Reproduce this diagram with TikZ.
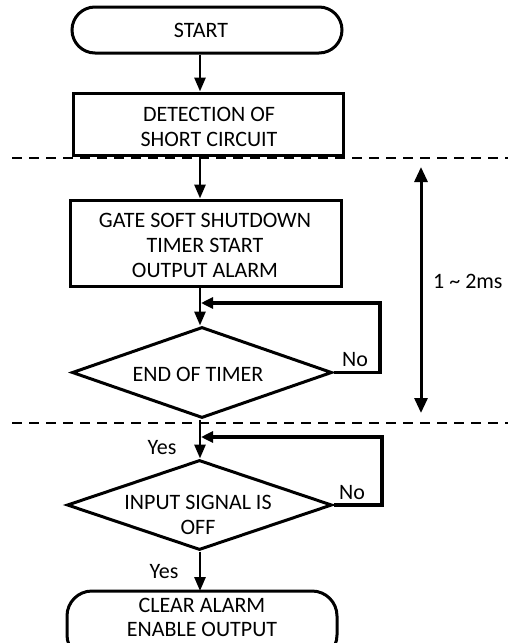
\documentclass[tikz,border=0pt]{standalone}
\usepackage{fontspec}
\setmainfont{Carlito}
\usetikzlibrary{arrows.meta,shapes.geometric,calc}
\begin{document}
\begin{tikzpicture}[x=1pt,y=-1pt,
  every node/.style={font=\fontsize{22}{25}\selectfont},
  box/.style={draw,line width=3pt,inner sep=0pt,align=center},
  term/.style={box,rounded corners=23pt},
  dec/.style={draw,line width=3pt,diamond,inner sep=0pt},
  txt/.style={inner sep=0pt,align=center},
  arr/.style={line width=2.8pt,-{Triangle[length=14pt,width=11pt]}},
  back/.style={line width=3.4pt,-{Triangle[length=12pt,width=11pt]},shorten >=1pt},
  sep/.style={line width=2.2pt,dash pattern=on 10pt off 7pt},
  dbl/.style={line width=3pt,{Triangle[length=15pt,width=13pt]}-{Triangle[length=15pt,width=13pt]}}]
\path[use as bounding box,clip] (0,0) rectangle (508,643);
\coordinate (col) at (200,0);
% nodes
\node[term,minimum width=270pt,minimum height=46pt] (start) at (207,30) {};
\node[txt] (startt) at (201,30) {START};
\node[box,minimum width=270pt,minimum height=62pt] (detect) at (208,124) {};
\node[txt] (detectt) at (209,127) {DETECTION OF\\SHORT CIRCUIT};
\node[box,minimum width=271pt,minimum height=86pt] (gate) at (205.5,243) {};
\node[txt] (gatet) at (205,245) {GATE SOFT SHUTDOWN\\TIMER START\\OUTPUT ALARM};
\node[dec,minimum width=260pt,minimum height=91pt] (d1) at (202,372.5) {};
\node[txt] (d1t) at (198,374) {END OF TIMER};
\node[dec,minimum width=265pt,minimum height=90pt] (d2) at (199.5,505) {};
\node[txt] (d2t) at (198,515) {INPUT SIGNAL IS\\OFF};
\draw[line width=3pt,rounded corners=25pt] (67,591) rectangle (337,660);
\node[txt,font=\fontsize{22}{24}\selectfont] (endt) at (202,617) {CLEAR ALARM\\ENABLE OUTPUT};
% phase separators
\draw[sep] (12,158) -- (508,158);
\draw[sep] (12,423) -- (508,423);
% main flow
\draw[arr] (start.south -| col) -- (detect.north -| col);
\draw[arr] (detect.south -| col) -- (gate.north -| col);
\draw[arr] (gate.south -| col) -- (d1.north -| col);
\draw[arr] (d1.south -| col) -- (d2.north -| col);
\coordinate (endtop) at (200,591);
\draw[arr] (d2.south -| col) -- (endtop);
% feedback loops
\coordinate (j1) at (200,303);
\coordinate (j2) at (200,437);
\draw[back] (d1.east) -- (380,372.5) |- (j1);
\draw[back] (d2.east) -- (382,505) |- (j2);
\node[txt] (no1) at (355,360) {No};
\node[txt] (no2) at (352,493) {No};
\node[txt] (yes1) at (162,448) {Yes};
\node[txt] (yes2) at (164,572) {Yes};
% timing
\coordinate (tt) at (421,167);
\coordinate (tb) at (421,413);
\draw[dbl] (tt) -- (tb);
\node[txt,anchor=west] (time) at (433,281) {1 \textasciitilde{} 2ms};
\end{tikzpicture}
\end{document}
